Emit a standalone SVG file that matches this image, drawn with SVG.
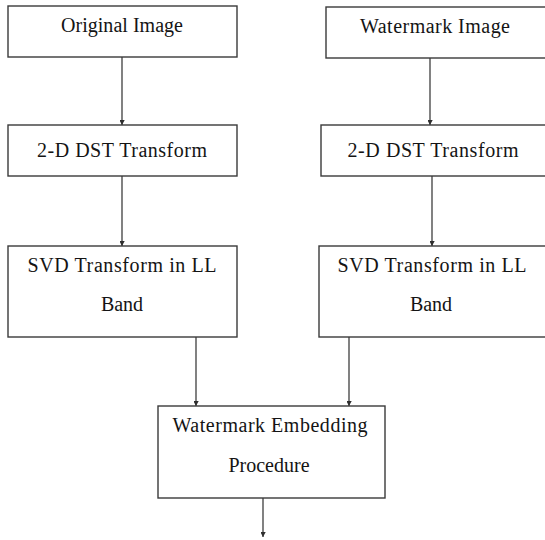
<svg xmlns="http://www.w3.org/2000/svg" width="545" height="540" viewBox="0 0 545 540">
  <style>
    .box { fill: #ffffff; stroke: #3a3a3a; stroke-width: 1.4; }
    .lbl { font-size: 20px; fill: #141414; text-anchor: middle; }
    .edge { stroke: #2e2e2e; stroke-width: 1.2; fill: none; marker-end: url(#arrow); }
  </style>
  <defs>
    <marker id="arrow" markerUnits="userSpaceOnUse" markerWidth="10" markerHeight="10" viewBox="-5 -8 10 10" refX="0" refY="0" orient="auto-start-reverse">
      <path d="M0,0 L-3.8,-7 L0,-5 L3.8,-7 Z" fill="#2e2e2e" transform="rotate(-90)"/>
    </marker>
  </defs>

  <rect width="545" height="540" fill="#ffffff"/>

  <!-- connectors -->
  <g id="connectors">
    <line class="edge" x1="122" y1="57" x2="122" y2="125"/>
    <line class="edge" x1="430" y1="58" x2="430" y2="125"/>
    <line class="edge" x1="122" y1="176" x2="122" y2="246"/>
    <line class="edge" x1="432" y1="176" x2="432" y2="246"/>
    <line class="edge" x1="196" y1="337" x2="196" y2="406"/>
    <line class="edge" x1="349" y1="337" x2="349" y2="406"/>
    <line class="edge" x1="263" y1="498" x2="263" y2="537"/>
  </g>

  <g font-family="Liberation Serif, DejaVu Serif, serif">
    <!-- left column -->
    <g id="original-image">
      <rect class="box" x="8" y="6" width="229" height="51"/>
      <text class="lbl" x="122" y="32" textLength="122" lengthAdjust="spacing">Original Image</text>
    </g>
    <g id="dst-left">
      <rect class="box" x="8" y="125" width="229" height="51"/>
      <text class="lbl" x="122" y="157" textLength="170" lengthAdjust="spacing">2-D DST Transform</text>
    </g>
    <g id="svd-left">
      <rect class="box" x="8" y="246" width="229" height="91"/>
      <text class="lbl" x="122" y="272" textLength="189" lengthAdjust="spacing">SVD Transform in LL</text>
      <text class="lbl" x="122" y="311">Band</text>
    </g>

    <!-- right column -->
    <g id="watermark-image">
      <rect class="box" x="326" y="7" width="225" height="51"/>
      <text class="lbl" x="435" y="33" textLength="150" lengthAdjust="spacing">Watermark Image</text>
    </g>
    <g id="dst-right">
      <rect class="box" x="321" y="125" width="230" height="51"/>
      <text class="lbl" x="433" y="157" textLength="171" lengthAdjust="spacing">2-D DST Transform</text>
    </g>
    <g id="svd-right">
      <rect class="box" x="319" y="246" width="232" height="91"/>
      <text class="lbl" x="432" y="272" textLength="189" lengthAdjust="spacing">SVD Transform in LL</text>
      <text class="lbl" x="431" y="311">Band</text>
    </g>

    <!-- embedding -->
    <g id="embedding">
      <rect class="box" x="158" y="406" width="227" height="92"/>
      <text class="lbl" x="270" y="432" textLength="195" lengthAdjust="spacing">Watermark Embedding</text>
      <text class="lbl" x="269" y="472">Procedure</text>
    </g>
  </g>
</svg>
